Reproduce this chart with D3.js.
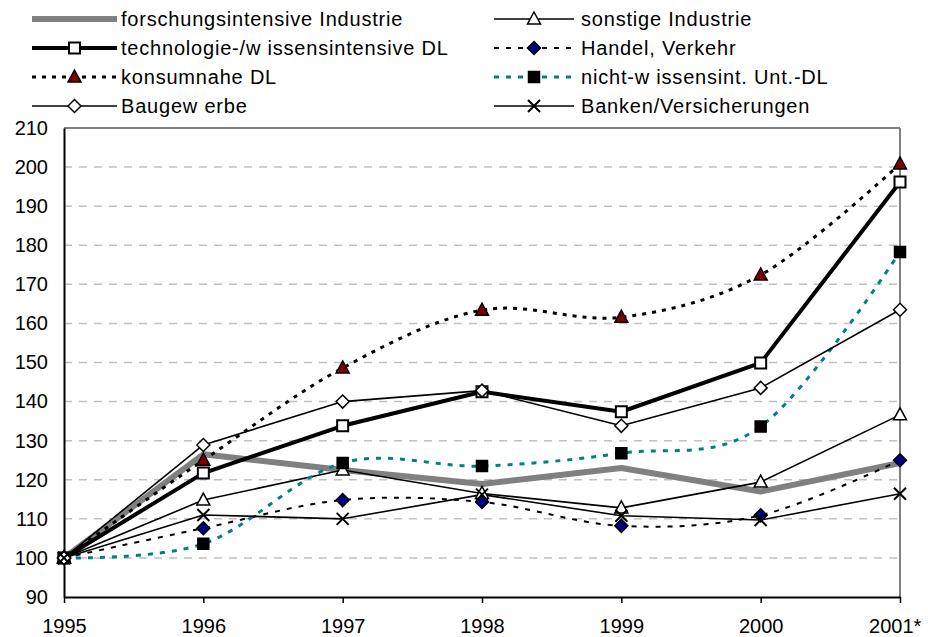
<!DOCTYPE html>
<html><head><meta charset="utf-8">
<script src="https://cdn.jsdelivr.net/npm/d3@7"></script>
<style>
html,body{margin:0;padding:0;background:#fff;}
text{font-family:"Liberation Sans",Arial,sans-serif;fill:#000;}
</style></head>
<body>
<svg id="chart" width="928" height="637"></svg>
<script>
// ---- data ----
const years = ["1995","1996","1997","1998","1999","2000","2001*"];
const yTicks = [90,100,110,120,130,140,150,160,170,180,190,200,210];
const forschung = [100,126.5,122.5,118.9,123,117,124.3];
const sonstige  = [100,114.8,122.5,116.5,112.8,119.4,136.6];
const technologie = [100,121.7,133.8,142.5,137.4,149.9,196.2];
const handel    = [100,107.6,114.8,114.3,108.2,110.9,125];
const konsum    = [100,125,148.6,163.4,161.6,172.4,200.8];
const nichtWiss = [100,103.6,124.3,123.5,126.8,133.6,178.3];
const bau       = [100,128.9,140,142.8,133.8,143.5,163.5];
const banken    = [100,111,110,116.2,110.8,109.7,116.4];
const seriesNames = ["forschungsintensive Industrie","sonstige Industrie","technologie-/w issensintensive DL","Handel, Verkehr","konsumnahe DL","nicht-w issensint. Unt.-DL","Baugew erbe","Banken/Versicherungen"];

// ---- styles ----
const series = [
  {name:seriesNames[0], values:forschung, color:"#808080", width:6, dash:null, smooth:false, marker:null},
  {name:seriesNames[1], values:sonstige, color:"#000", width:1.6, dash:null, smooth:false, marker:"triangle", fill:"#fff"},
  {name:seriesNames[2], values:technologie, color:"#000", width:4, dash:null, smooth:false, marker:"square", fill:"#fff"},
  {name:seriesNames[3], values:handel, color:"#000", width:2, dash:"5,7", smooth:true, marker:"diamond", fill:"#000080"},
  {name:seriesNames[4], values:konsum, color:"#000", width:3, dash:"4,6", smooth:true, marker:"triangle", fill:"#800000"},
  {name:seriesNames[5], values:nichtWiss, color:"#008080", width:3, dash:"5,7", smooth:true, marker:"square", fill:"#000"},
  {name:seriesNames[6], values:bau, color:"#000", width:1.6, dash:null, smooth:false, marker:"diamond", fill:"#fff"},
  {name:seriesNames[7], values:banken, color:"#000", width:1.6, dash:null, smooth:false, marker:"x", fill:"none"}
];

const svg = d3.select("#chart");
const x = d3.scalePoint().domain(years).range([64, 900]);
const y = d3.scaleLinear().domain([90, 210]).range([597, 128]);

// gridlines
svg.append("g").selectAll("line").data(yTicks.filter(v => v > 90 && v < 210)).join("line")
  .attr("x1", 64).attr("x2", 900).attr("y1", d => y(d)).attr("y2", d => y(d))
  .attr("stroke", "#c0c0c0").attr("stroke-width", 1.5).attr("stroke-dasharray", "8,7");

// plot border top/right
svg.append("line").attr("x1", 64).attr("x2", 900).attr("y1", y(210)).attr("y2", y(210))
  .attr("stroke", "#808080").attr("stroke-width", 2);
svg.append("line").attr("x1", 900).attr("x2", 900).attr("y1", y(210)).attr("y2", y(90))
  .attr("stroke", "#808080").attr("stroke-width", 2);

// axes
const yAxis = svg.append("g").attr("transform", "translate(64,0)")
  .call(d3.axisLeft(y).tickValues(yTicks).tickSize(0).tickPadding(16).tickFormat(d3.format("d")));
yAxis.select(".domain").attr("stroke", "#000").attr("stroke-width", 2);
yAxis.selectAll("text").style("font-size", "20px").style("font-family", "Liberation Sans, Arial, sans-serif");

const xAxis = svg.append("g").attr("transform", "translate(0,597)")
  .call(d3.axisBottom(x).tickSize(6).tickPadding(16).tickSizeOuter(0));
xAxis.select(".domain").attr("stroke", "#000").attr("stroke-width", 2);
xAxis.selectAll(".tick line").attr("stroke", "#000").attr("stroke-width", 1.5);
xAxis.selectAll("text").style("font-size", "20px").style("font-family", "Liberation Sans, Arial, sans-serif")
  .each(function() {
    const b = this.getBBox();
    const tx = x(this.__data__);
    if (tx + b.x + b.width > 921) d3.select(this).attr("x", 921 - (tx + b.x + b.width));
  });

// markers
function markerPath(type, cx, cy) {
  if (type === "square") { const s = 5.5; return `M${cx-s},${cy-s}H${cx+s}V${cy+s}H${cx-s}Z`; }
  if (type === "triangle") { return `M${cx},${cy-7}L${cx+6.5},${cy+5}L${cx-6.5},${cy+5}Z`; }
  if (type === "diamond") { const s = 6.5; return `M${cx},${cy-s}L${cx+s},${cy}L${cx},${cy+s}L${cx-s},${cy}Z`; }
  if (type === "x") { const s = 6; return `M${cx-s},${cy-s}L${cx+s},${cy+s}M${cx+s},${cy-s}L${cx-s},${cy+s}`; }
  return "";
}
function drawMarker(g, type, fill, cx, cy) {
  if (!type) return;
  g.append("path").attr("d", markerPath(type, cx, cy))
    .attr("fill", type === "x" ? "none" : fill)
    .attr("stroke", "#000").attr("stroke-width", type === "x" ? 2 : (type === "square" && fill === "#fff" ? 2 : 1.5))
    .attr("stroke-linejoin", "miter");
}

// lines
const plot = svg.append("g");
series.forEach(s => {
  const line = d3.line().x((d, i) => x(years[i])).y(d => y(d))
    .curve(s.smooth ? d3.curveCatmullRom.alpha(0) : d3.curveLinear);
  plot.append("path").datum(s.values).attr("d", line)
    .attr("fill", "none").attr("stroke", s.color).attr("stroke-width", s.width)
    .attr("stroke-dasharray", s.dash).attr("stroke-linejoin", "round");
});
series.forEach(s => {
  const g = plot.append("g");
  s.values.forEach((v, i) => drawMarker(g, s.marker, s.fill, x(years[i]), y(v)));
});

// legend
const legendOrder = [[0,2,4,6],[1,3,5,7]];
const cols = [{x1:32, x2:117, tx:121}, {x1:494, x2:574, tx:581}];
const rowsY = [19, 48, 77, 106];
legendOrder.forEach((col, ci) => {
  col.forEach((si, ri) => {
    const s = series[si], c = cols[ci], ly = rowsY[ri];
    const g = svg.append("g");
    g.append("line").attr("x1", c.x1).attr("x2", c.x2).attr("y1", ly).attr("y2", ly)
      .attr("stroke", s.color).attr("stroke-width", s.width).attr("stroke-dasharray", s.dash);
    drawMarker(g, s.marker, s.fill, (c.x1 + c.x2) / 2, ly);
    g.append("text").attr("x", c.tx).attr("y", ly).attr("dy", "0.35em")
      .style("font-size", "20px").style("letter-spacing", "0.8px").text(s.name);
  });
});
</script>
</body></html>
